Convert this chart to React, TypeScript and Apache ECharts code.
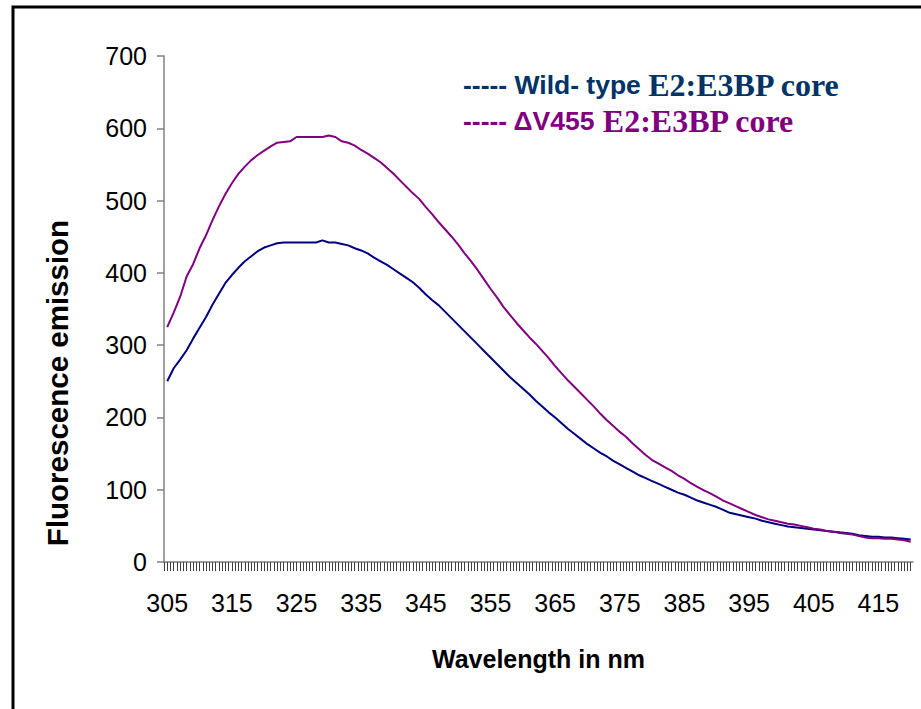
import React, { useEffect, useRef } from "react";
import * as echarts from "echarts";

// Wavelength grid of the measurements (nm), 1 nm steps from 305 to 420
const wavelengthStart = 305;
const wavelengthStep = 1;

// Wild-type E2:E3BP core
const wildType = [
  250, 268, 280, 293, 309, 324, 339, 356, 371, 386,
  397, 407, 416, 423, 430, 435, 438, 441, 442, 442,
  442, 442, 442, 442, 445, 442, 442, 440, 438, 434,
  431, 427, 421, 416, 411, 405, 399, 393, 387, 379,
  370, 362, 355, 346, 337, 328, 319, 310, 301, 292,
  283, 274, 265, 256, 248, 240, 232, 223, 215, 207,
  200, 192, 184, 177, 170, 163, 157, 151, 146, 140,
  135, 130, 125, 120, 116, 112, 108, 104, 100, 96,
  93, 89, 85, 82, 79, 76, 72, 68, 66, 64,
  62, 60, 57, 55, 53, 51, 49, 48, 47, 46,
  45, 44, 43, 42, 41, 40, 39, 37, 36, 35,
  35, 34, 34, 33, 32, 31,
];

// ΔV455 E2:E3BP core
const deltaV455 = [
  325, 345, 367, 395, 412, 434, 452, 473, 492, 509,
  524, 537, 547, 556, 563, 569, 575, 580, 581, 582,
  588, 588, 588, 588, 588, 590, 588, 582, 580, 576,
  570, 565, 559, 553, 545, 537, 528, 519, 510, 502,
  491, 481, 470, 460, 450, 439, 427, 416, 404, 391,
  378, 366, 353, 342, 331, 321, 311, 302, 292, 282,
  271, 261, 251, 242, 233, 224, 215, 205, 196, 188,
  180, 173, 164, 156, 148, 141, 136, 131, 126, 120,
  115, 109, 104, 99, 95, 90, 85, 81, 77, 73,
  69, 65, 62, 59, 57, 55, 53, 52, 50, 48,
  46, 45, 43, 42, 40, 39, 38, 36, 34, 33,
  33, 32, 32, 31, 30, 28,
];

// Tick labels
const xTickLabels = [305, 315, 325, 335, 345, 355, 365, 375, 385, 395, 405, 415];
const yTickLabels = [0, 100, 200, 300, 400, 500, 600, 700];

const seriesNames = ["Wild- type E2:E3BP core", "ΔV455 E2:E3BP core"];

const SANS = "'Liberation Sans', Arial, sans-serif";
const SERIF = "'Liberation Serif', 'Times New Roman', serif";

export default function App() {
  const ref = useRef<HTMLDivElement>(null);

  useEffect(() => {
    document.body.style.margin = "0";
    if (!ref.current) return;
    const chart = echarts.init(ref.current, undefined, { renderer: "svg" });

    const xMin = 304.5;
    const xMax = 420.35;
    const minorTicks: number[] = [];
    for (let v = xMin; v <= xMax + 1e-9; v += 0.5) minorTicks.push(v);

    const toPairs = (arr: number[]) =>
      arr.map((y, i) => [wavelengthStart + i * wavelengthStep, y]);

    chart.setOption({
      animation: false,
      backgroundColor: "#ffffff",
      grid: { left: 164, right: 8, top: 56, bottom: 147, containLabel: false },
      xAxis: {
        type: "value",
        min: xMin,
        max: xMax,
        name: "Wavelength in nm",
        nameLocation: "middle",
        nameGap: 84,
        nameTextStyle: { fontFamily: SANS, fontWeight: "bold", fontSize: 25, color: "#000" },
        axisLine: { show: true, lineStyle: { color: "#808080", width: 1.5 } },
        axisTick: {
          show: true,
          customValues: minorTicks,
          length: 9,
          lineStyle: { color: "#404040", width: 1 },
        },
        axisLabel: {
          customValues: xTickLabels,
          fontFamily: SANS,
          fontSize: 25,
          color: "#000",
          margin: 28,
        },
        splitLine: { show: false },
      },
      yAxis: {
        type: "value",
        min: yTickLabels[0],
        max: yTickLabels[yTickLabels.length - 1],
        interval: 100,
        axisLine: { show: true, lineStyle: { color: "#808080", width: 1.5 } },
        axisTick: { show: true, length: 7, lineStyle: { color: "#808080", width: 1.5 } },
        axisLabel: { fontFamily: SANS, fontSize: 25, color: "#000", margin: 17 },
        splitLine: { show: false },
      },
      series: [
        {
          name: seriesNames[0],
          type: "line",
          data: toPairs(wildType),
          showSymbol: false,
          lineStyle: { color: "#000080", width: 2 },
          itemStyle: { color: "#000080" },
        },
        {
          name: seriesNames[1],
          type: "line",
          data: toPairs(deltaV455),
          showSymbol: false,
          lineStyle: { color: "#800080", width: 2 },
          itemStyle: { color: "#800080" },
        },
      ],
      graphic: [
        {
          type: "rect",
          z: -1,
          shape: { x: 13, y: 7, width: 1200, height: 1200 },
          style: { fill: "none", stroke: "#000", lineWidth: 3 },
        },
        {
          type: "text",
          x: 57,
          y: 383,
          rotation: Math.PI / 2,
          style: {
            text: "Fluorescence emission",
            font: `bold 29.5px ${SANS}`,
            fill: "#000",
            align: "center",
            verticalAlign: "middle",
          },
        },
        {
          type: "text",
          x: 463,
          y: 85,
          style: {
            text: "{a|----- Wild- type }{b|E2:E3BP core}",
            verticalAlign: "middle",
            rich: {
              a: { fontFamily: SANS, fontWeight: "bold", fontSize: 26.5, fill: "#003366", color: "#003366" },
              b: { fontFamily: SERIF, fontWeight: "bold", fontSize: 32, fill: "#003366", color: "#003366" },
            },
          },
        },
        {
          type: "text",
          x: 463,
          y: 121,
          style: {
            text: "{a|----- ΔV455 }{b|E2:E3BP core}",
            verticalAlign: "middle",
            rich: {
              a: { fontFamily: SANS, fontWeight: "bold", fontSize: 26.5, fill: "#800080", color: "#800080" },
              b: { fontFamily: SERIF, fontWeight: "bold", fontSize: 32, fill: "#800080", color: "#800080" },
            },
          },
        },
      ],
    });

    return () => chart.dispose();
  }, []);

  return <div ref={ref} style={{ width: 921, height: 709 }} />;
}
